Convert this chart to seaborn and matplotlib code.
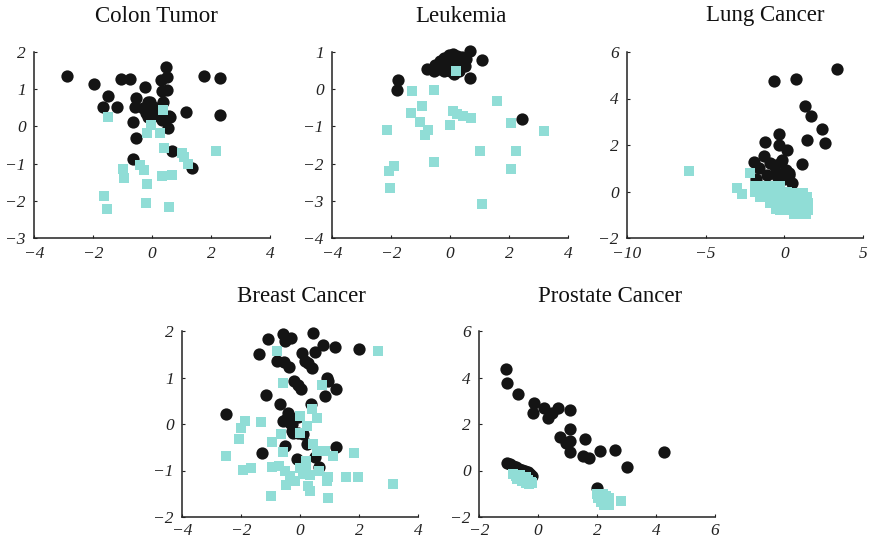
import numpy as np
import pandas as pd
import matplotlib
matplotlib.use("Agg")
import matplotlib.pyplot as plt
import seaborn as sns

# ---------------- data ----------------
colon_dark = [(-2.87,1.36),(-1.95,1.15),(-1.50,0.83),(-1.66,0.53),(-1.19,0.53),(-1.05,1.27),(-0.75,1.27),
              (-0.24,1.05),(-0.53,0.75),(-0.59,0.53),(-0.15,0.66),(-0.20,0.35),(-0.64,0.12),(-0.55,-0.32),
              (-0.63,-0.87),(0.49,1.60),(0.50,1.33),(0.32,1.24),(0.52,0.97),(0.33,0.94),(0.36,0.66),(0.14,0.39),
              (0.59,0.28),(0.34,0.17),(0.53,-0.05),(0.00,0.26),(0.67,-0.66),(1.14,0.39),(1.76,1.35),(2.29,1.30),
              (2.29,0.30),(1.37,-1.13),(0.02,0.53),(-0.31,0.49),(-0.07,0.66),(0.16,0.49),(-0.12,0.26),(0.61,0.26),
              (0.28,0.40)]
colon_light = [(-1.50,0.24),(0.36,0.44),(-0.02,0.04),(-0.17,-0.17),(0.26,-0.17),(0.39,-0.57),(1.01,-0.72),
               (1.08,-0.81),(1.22,-1.02),(2.18,-0.67),(-0.98,-1.14),(-0.96,-1.38),(-0.40,-1.05),(-0.27,-1.17),
               (-0.18,-1.55),(0.35,-1.32),(0.67,-1.31),(-1.62,-1.88),(-1.53,-2.21),(-0.20,-2.06),(0.57,-2.18)]

leuk_dark = [(-1.76,0.24),(-1.78,-0.03),(2.45,-0.79),(0.68,1.04),(1.07,0.78),(0.68,0.31),(-0.79,0.53),
             (-0.60,0.55),(-0.50,0.65),(-0.35,0.75),(-0.20,0.85),(-0.05,0.92),(0.10,0.95),(0.25,0.90),
             (0.40,0.87),(0.55,0.80),(-0.40,0.55),(-0.25,0.60),(-0.10,0.70),(0.05,0.75),(0.20,0.70),(0.35,0.65),
             (0.50,0.62),(-0.20,0.48),(0.00,0.50),(0.15,0.42),(0.30,0.50),(-0.55,0.50),(0.10,0.85),(-0.10,0.55)]
leuk_light = [(0.19,0.48),(-1.30,-0.05),(-0.54,-0.01),(1.61,-0.33),(-0.94,-0.46),(-1.32,-0.63),(0.09,-0.59),
              (0.23,-0.66),(0.45,-0.72),(0.70,-0.77),(-1.01,-0.88),(-0.75,-1.11),(-0.85,-1.24),(0.00,-0.95),
              (-2.14,-1.09),(2.08,-0.90),(3.18,-1.13),(1.01,-1.66),(2.23,-1.66),(-0.54,-1.97),(-1.89,-2.06),
              (-2.08,-2.20),(-2.05,-2.65),(2.08,-2.14),(1.07,-3.08)]

lung_dark = [(3.33,5.29),(-0.64,4.76),(0.76,4.83),(1.33,3.67),(1.67,3.26),(2.41,2.67),(2.60,2.10),(1.43,2.20),
             (1.14,1.18),(-1.26,2.11),(-0.37,2.46),(-0.35,2.00),(0.18,1.79),(-1.32,1.54),(-1.94,1.28),
             (-1.64,1.03),(-1.77,0.55),(-0.88,1.21),(-0.24,1.29),(-0.56,0.86),(0.08,0.93),(0.29,0.72),
             (0.48,0.37),(-1.09,0.71),(-0.35,0.50),(-0.66,1.14),(-0.13,1.36),(0.28,0.79),(-0.45,0.65),(0.00,0.55)]
lung_light = [(-6.05,0.90),(-2.20,0.80),(-3.00,0.15),(-2.70,-0.10),
              (-1.85,0.25),(-1.45,0.25),(-1.05,0.25),(-0.65,0.25),(-0.30,0.25),
              (-1.85,0.00),(-1.45,0.00),(-1.05,0.00),(-0.65,0.00),(-0.25,0.00),(0.15,0.00),(0.55,-0.05),
              (0.95,-0.05),(1.20,-0.05),
              (-1.55,-0.25),(-1.20,-0.25),(-0.80,-0.25),(-0.40,-0.25),(0.00,-0.25),(0.40,-0.25),(0.80,-0.25),
              (1.20,-0.25),(1.45,-0.25),
              (-0.90,-0.50),(-0.60,-0.50),(-0.30,-0.50),(0.10,-0.50),(0.50,-0.50),(0.90,-0.50),(1.30,-0.50),
              (1.50,-0.50),
              (-0.50,-0.75),(-0.25,-0.78),(0.05,-0.78),(0.45,-0.78),(0.85,-0.78),(1.25,-0.78),(1.50,-0.78),
              (0.60,-0.95),(1.00,-0.95),(1.40,-0.95)]

breast_dark = [(-2.50,0.22),(-1.30,-0.62),(-1.39,1.51),(-1.07,1.82),(-0.56,1.94),(-0.51,1.78),(-0.32,1.86),
               (0.45,1.95),(0.79,1.69),(0.51,1.55),(0.06,1.53),(1.20,1.65),(1.99,1.62),(-0.79,1.36),(-0.54,1.33),
               (-0.37,1.23),(0.17,1.35),(0.28,1.32),(0.40,1.21),(0.90,1.00),(0.96,0.92),(1.22,0.75),(0.85,0.60),
               (-0.20,0.92),(-0.06,0.83),(0.04,0.75),(-1.15,0.62),(-0.69,0.44),(0.36,0.42),(-0.40,0.24),
               (-0.28,-0.01),(-0.56,0.06),(-0.34,0.03),(-0.28,-0.15),(-0.23,-0.19),(-0.06,-0.19),(0.11,-0.22),
               (-0.51,-0.47),(0.24,-0.44),(0.51,-0.70),(-0.11,-0.76),(0.63,-0.92),(1.23,-0.50),(-0.06,0.16),
               (-0.50,0.08)]
breast_light = [(-0.79,1.58),(2.65,1.58),(-0.59,0.89),(0.76,0.83),(0.39,0.33),(0.59,0.13),(0.00,0.17),
                (0.24,-0.04),(-1.32,0.04),(-1.86,0.06),(-2.00,-0.08),(-2.08,-0.32),(-2.51,-0.69),(-0.64,-0.22),
                (0.00,-0.19),(-0.96,-0.38),(-0.58,-0.61),(0.44,-0.44),(0.56,-0.59),(0.85,-0.58),(1.12,-0.69),
                (1.84,-0.62),(0.21,-0.80),(-1.92,-0.99),(-1.65,-0.95),(-0.96,-0.92),(-0.71,-0.90),(-0.50,-1.02),
                (-0.34,-1.12),(0.01,-0.94),(0.22,-1.02),(0.34,-1.10),(0.63,-1.01),(0.96,-1.13),(0.90,-1.23),
                (1.57,-1.15),(1.97,-1.14),(3.15,-1.30),(-0.46,-1.32),(-0.17,-1.23),(0.28,-1.34),(0.34,-1.45),
                (-0.97,-1.54),(0.94,-1.60),(0.11,-1.08)]

prost_dark = [(-1.10,4.38),(-1.05,3.78),(-0.68,3.30),(-0.14,2.92),(-0.17,2.49),(0.19,2.68),(0.48,2.49),
              (0.33,2.27),(0.67,2.70),(1.10,2.62),(1.09,1.77),(0.73,1.46),(0.95,1.20),(1.09,1.26),(1.10,0.80),
              (1.60,1.34),(1.54,0.62),(1.74,0.55),(2.10,0.84),(2.61,0.88),(3.00,0.16),(4.28,0.80),(1.99,-0.74),
              (-1.05,0.33),(-0.95,0.28),(-0.85,0.21),(-0.75,0.14),(-0.65,0.08),(-0.55,0.03),(-0.45,-0.02),
              (-0.35,-0.08),(-0.27,-0.15),(-0.22,-0.25),(-0.30,-0.20)]
prost_light = [(-0.85,-0.15),(-0.75,-0.22),(-0.65,-0.28),(-0.55,-0.33),(-0.45,-0.38),(-0.35,-0.43),
               (-0.25,-0.48),(-0.20,-0.55),(-0.70,-0.35),(-0.55,-0.45),(-0.40,-0.55),(-0.30,-0.60),
               (-0.60,-0.20),(-0.40,-0.28),
               (2.00,-1.00),(2.20,-1.00),(2.05,-1.20),(2.30,-1.10),(2.40,-1.20),(2.15,-1.35),(2.35,-1.35),
               (2.25,-1.50),(2.40,-1.50),(2.80,-1.30)]

titles = ["Colon Tumor", "Leukemia", "Lung Cancer", "Breast Cancer", "Prostate Cancer"]
xticks = [[-4, -2, 0, 2, 4], [-4, -2, 0, 2, 4], [-10, -5, 0, 5], [-4, -2, 0, 2, 4], [-2, 0, 2, 4, 6]]
yticks = [[-3, -2, -1, 0, 1, 2], [-4, -3, -2, -1, 0, 1], [-2, 0, 2, 4, 6], [-2, -1, 0, 1, 2], [-2, 0, 2, 4, 6]]
panels = [(colon_dark, colon_light), (leuk_dark, leuk_light), (lung_dark, lung_light),
          (breast_dark, breast_light), (prost_dark, prost_light)]

# ---------------- layout ----------------
sns.set_theme(style="white")
plt.rcParams['font.family'] = ['Liberation Serif', 'DejaVu Serif']
plt.rcParams['axes.unicode_minus'] = True

W, H = 869, 540
fig = plt.figure(figsize=(W / 100, H / 100), dpi=100)
aw, ah = 236, 186
lefts = [34, 332, 627, 182, 479]
bottoms = [238, 238, 238, 517, 517]   # pixel y of x-axis (from top)
xpads = [6, 6, 6, 4.5, 4.5]
title_cx = [156, 461, 765, 301, 610]
title_cy = [16, 16, 16, 296, 296]

dark_c = "#141414"
light_c = "#90ddd6"

for i, (dark, light) in enumerate(panels):
    ax = fig.add_axes([lefts[i] / W, (H - bottoms[i]) / H, aw / W, ah / H])
    df = pd.DataFrame(dark + light, columns=["x", "y"])
    df["cls"] = ["pos"] * len(dark) + ["neg"] * len(light)
    dfd = df[df.cls == "pos"]
    dfl = df[df.cls == "neg"]
    sns.scatterplot(data=dfd, x="x", y="y", ax=ax, color=dark_c, marker="o", s=78,
                    linewidth=0, legend=False, zorder=2, clip_on=False)
    sns.scatterplot(data=dfl, x="x", y="y", ax=ax, color=light_c, marker="s", s=50,
                    linewidth=0, legend=False, zorder=3, clip_on=False)
    ax.set_xlim(xticks[i][0], xticks[i][-1])
    ax.set_ylim(yticks[i][0], yticks[i][-1])
    ax.set_xticks(xticks[i])
    ax.set_yticks(yticks[i])
    ax.set_xticklabels([f"{v}".replace("-", "\u2212") for v in xticks[i]], fontstyle="italic", fontsize=12.5)
    ax.set_yticklabels([f"{v}".replace("-", "\u2212") for v in yticks[i]], fontstyle="italic", fontsize=12.5)
    ax.tick_params(axis="both", direction="in", length=2, width=0.8, colors="#222222",
                   labelcolor="#222222", bottom=True, left=True)
    ax.tick_params(axis="y", pad=6)
    ax.tick_params(axis="x", pad=xpads[i])
    ax.set_xlabel("")
    ax.set_ylabel("")
    for side in ["top", "right"]:
        ax.spines[side].set_visible(False)
    for side in ["left", "bottom"]:
        ax.spines[side].set_color("#222222")
        ax.spines[side].set_linewidth(1.1)
    ax.set_facecolor("white")
    fig.text(title_cx[i] / W, 1 - title_cy[i] / H, titles[i], ha="center", va="center",
             fontsize=16.5, color="#111111")

fig.savefig("out.png", dpi=100, facecolor="white")
